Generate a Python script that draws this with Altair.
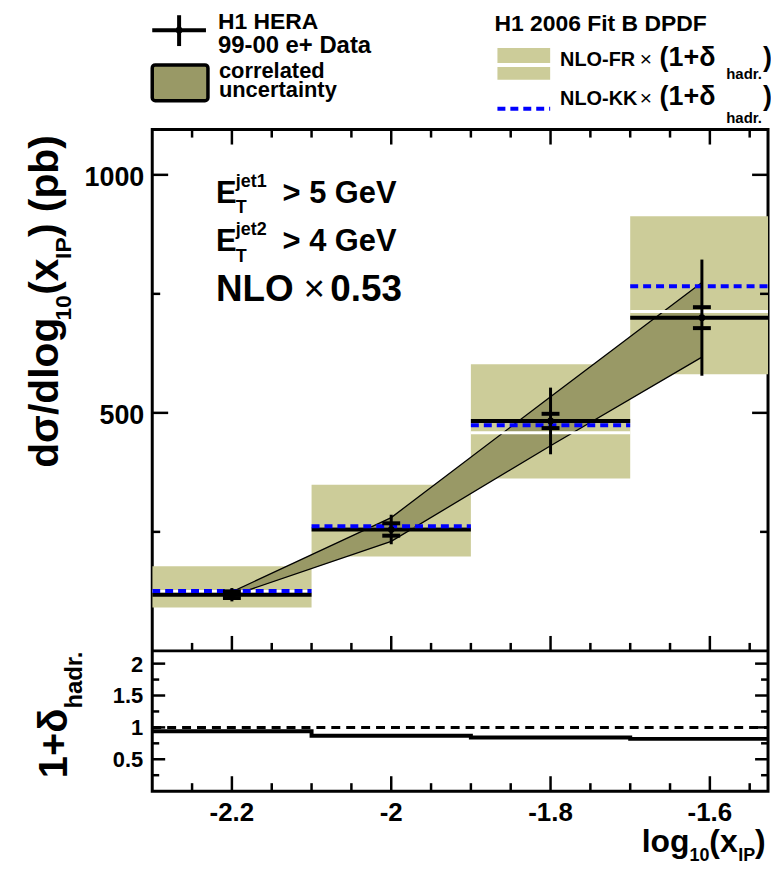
import altair as alt
import pandas as pd

# ---------------- data ----------------
bin_lo = [-2.3, -2.1, -1.9, -1.7]
bin_hi = [-2.1, -1.9, -1.7, -1.52]
x_pts = [-2.2, -2.0, -1.8, -1.61]
data_val = [118, 255, 483, 700]
stat_err = [7, 13, 15, 22]
tot_err = [14, 31, 70, 122]
fr_low = [91, 198, 362, 581]
fr_high = [178, 349, 602, 913]
fr_cent = [125, 256, 458, 713]
kk_val = [126, 262, 474, 766]
corr_x = [-2.2, -2.0, -1.8, -1.61]
corr_up = [124, 280, 534, 774]
corr_lo = [116, 230, 431, 617]
had_corr = [0.94, 0.87, 0.84, 0.82]
ratio_ref = [1.0]

x_major = [-2.2, -2.0, -1.8, -1.6]
x_labels = ["-2.2", "-2", "-1.8", "-1.6"]
x_minor = [-2.25, -2.15, -2.1, -2.05, -1.95, -1.9, -1.85, -1.75, -1.7, -1.65, -1.55]
y_major = [500, 1000]
y_labels = ["500", "1000"]
y_minor = [250, 750]
r_major = [0.5, 1.0, 1.5, 2.0]
r_labels = ["0.5", "1", "1.5", "2"]
r_minor = [0.25, 0.75, 1.25, 1.75]

# ---------------- layout ----------------
FONT = "Liberation Sans"
W = 619
H_MAIN = 524
H_TOT = 665
KHAKI = "#CCCC99"
DARK = "#999966"
BLUE = "#0000FF"

XS = alt.Scale(domain=[-2.3, -1.527], range=[0, W], nice=False, zero=False)
YM = alt.Scale(domain=[0, 1095], range=[H_MAIN, 0], nice=False, zero=False)
YR = alt.Scale(domain=[0, 2.2], range=[H_TOT, H_MAIN], nice=False, zero=False)


def X(f):
    return alt.X(f, type="quantitative", scale=XS, axis=None)


def YMf(f):
    return alt.Y(f, type="quantitative", scale=YM, axis=None)


def YRf(f):
    return alt.Y(f, type="quantitative", scale=YR, axis=None)


def txt(s, x, y, size, weight="bold", angle=0, align="left", baseline="alphabetic"):
    return alt.Chart(pd.DataFrame({"t": [s]})).mark_text(
        align=align, baseline=baseline, fontSize=size, fontWeight=weight,
        font=FONT, angle=angle, color="black"
    ).encode(x=alt.value(x), y=alt.value(y), text="t:N")


bins = pd.DataFrame({"lo": bin_lo, "hi": bin_hi, "flo": fr_low, "fhi": fr_high,
                     "fc": fr_cent, "kk": kk_val, "d": data_val})
pts = pd.DataFrame({"x": x_pts, "d": data_val,
                    "lo": [d - e for d, e in zip(data_val, tot_err)],
                    "hi": [d + e for d, e in zip(data_val, tot_err)]})
stat_ticks = pd.DataFrame({"x": x_pts + x_pts,
                           "v": [d + e for d, e in zip(data_val, stat_err)] +
                                [d - e for d, e in zip(data_val, stat_err)]})
corr = pd.DataFrame({"x": corr_x, "up": corr_up, "lo": corr_lo})
had = pd.DataFrame({"x": bin_lo + [bin_hi[-1]], "h": had_corr + [had_corr[-1]]})

layers = []

# khaki NLO-FR bands
layers.append(alt.Chart(bins).mark_rect(color=KHAKI, clip=True).encode(
    x=X("lo"), x2="hi", y=YMf("flo"), y2="fhi"))
# correlated uncertainty band
layers.append(alt.Chart(corr).mark_area(color=DARK, opacity=1).encode(
    x=X("x"), y=YMf("up"), y2="lo"))
layers.append(alt.Chart(corr).mark_line(color="black", strokeWidth=1.3).encode(
    x=X("x"), y=YMf("up")))
layers.append(alt.Chart(corr).mark_line(color="black", strokeWidth=1.3).encode(
    x=X("x"), y=YMf("lo")))
# NLO-FR central (white)
layers.append(alt.Chart(bins).mark_rule(color="white", strokeWidth=3, clip=True).encode(
    x=X("lo"), x2="hi", y=YMf("fc")))
# data histogram line
layers.append(alt.Chart(bins).mark_rule(color="black", strokeWidth=4, clip=True).encode(
    x=X("lo"), x2="hi", y=YMf("d")))
# NLO-KK (blue dashed)
layers.append(alt.Chart(bins).mark_rule(color=BLUE, strokeWidth=4, strokeDash=[8, 5], clip=True).encode(
    x=X("lo"), x2="hi", y=YMf("kk")))
# error bars
layers.append(alt.Chart(pts).mark_rule(color="black", strokeWidth=3).encode(
    x=X("x"), y=YMf("lo"), y2="hi"))
layers.append(alt.Chart(stat_ticks).mark_rule(color="black", strokeWidth=4, xOffset=-9, x2Offset=9).encode(
    x=X("x"), x2="x", y=YMf("v")))
layers.append(alt.Chart(pts).mark_point(filled=True, size=45, color="black", opacity=1).encode(
    x=X("x"), y=YMf("d")))

# ratio panel
layers.append(alt.Chart(pd.DataFrame({"v": ratio_ref})).mark_rule(
    color="black", strokeWidth=3, strokeDash=[9, 6]).encode(
    x=alt.value(0), x2=alt.value(W), y=YRf("v")))
layers.append(alt.Chart(had).mark_line(color="black", strokeWidth=4, interpolate="step-after", clip=True).encode(
    x=X("x"), y=YRf("h")))

# panel divider
layers.append(alt.Chart(pd.DataFrame({"a": [0]})).mark_rule(color="black", strokeWidth=3).encode(
    x=alt.value(0), x2=alt.value(W), y=alt.value(H_MAIN)))

# ---- inward ticks ----
def xticks(vals, y0, ln):
    return alt.Chart(pd.DataFrame({"v": vals})).mark_rule(color="black", strokeWidth=2.5).encode(
        x=X("v"), y=alt.value(y0), y2=alt.value(y0 + ln))


for vals, ln in [(x_major, 15), (x_minor, 8)]:
    layers.append(xticks(vals, 0, ln))
    layers.append(xticks(vals, H_MAIN, -ln))
    layers.append(xticks(vals, H_TOT, -ln))


def yticks(vals, yf, x0, ln):
    return alt.Chart(pd.DataFrame({"v": vals})).mark_rule(color="black", strokeWidth=2.5).encode(
        y=yf("v"), x=alt.value(x0), x2=alt.value(x0 + ln))


for vals, ln in [(y_major, 16), (y_minor, 8)]:
    layers.append(yticks(vals, YMf, 0, ln))
    layers.append(yticks(vals, YMf, W, -ln))
for vals, ln in [(r_major, 13), (r_minor, 7)]:
    layers.append(yticks(vals, YRf, 0, ln))
    layers.append(yticks(vals, YRf, W, -ln))

# ---- tick labels ----
layers.append(alt.Chart(pd.DataFrame({"v": x_major, "lab": x_labels})).mark_text(
    align="center", baseline="alphabetic", fontSize=26, fontWeight="bold", font=FONT, color="black").encode(
    x=X("v"), y=alt.value(695), text="lab:N"))
layers.append(alt.Chart(pd.DataFrame({"v": y_major, "lab": y_labels})).mark_text(
    align="right", baseline="middle", fontSize=27, fontWeight="bold", font=FONT, color="black", dy=3).encode(
    y=YMf("v"), x=alt.value(-8), text="lab:N"))
layers.append(alt.Chart(pd.DataFrame({"v": r_major, "lab": r_labels})).mark_text(
    align="right", baseline="middle", fontSize=22, fontWeight="bold", font=FONT, color="black", dy=1).encode(
    y=YRf("v"), x=alt.value(-9), text="lab:N"))

# ---- axis titles ----
# main y title (rotated)
layers += [
    txt("d\u03c3/dlog", -95, 340, 41, angle=270),
    txt("10", -82, 192, 23, angle=270),
    txt("(x", -95, 166, 41, angle=270),
    txt("IP", -82, 130, 23, angle=270),
    txt(") (pb)", -95, 108, 41, angle=270),
]
# ratio y title
layers += [
    txt("1+\u03b4", -86, 652, 40, angle=270),
    txt("hadr.", -71, 582, 24, angle=270),
]
# x title
layers += [
    txt("log", 492, 726, 32),
    txt("10", 540, 735, 18),
    txt("(x", 560, 726, 32),
    txt("IP", 589, 735, 18),
    txt(")", 606, 726, 32),
]

# ---- in-plot labels ----
layers += [
    txt("E", 64, 74, 31), txt("T", 84, 84, 18), txt("jet1", 84, 58, 18), txt("> 5 GeV", 131, 74, 31),
    txt("E", 64, 122, 31), txt("T", 84, 133, 18), txt("jet2", 84, 106, 18), txt("> 4 GeV", 131, 122, 31),
    txt("NLO", 64, 172, 37), txt("\u00d7", 152, 172, 37, weight="normal"), txt("0.53", 179, 172, 37),
]

# ---- legend (left) ----
layers.append(alt.Chart(pd.DataFrame({"a": [0]})).mark_rule(color="black", strokeWidth=4).encode(
    x=alt.value(0), x2=alt.value(54), y=alt.value(-100)))
layers.append(alt.Chart(pd.DataFrame({"a": [0]})).mark_rule(color="black", strokeWidth=4).encode(
    x=alt.value(27), y=alt.value(-115), y2=alt.value(-84)))
layers.append(alt.Chart(pd.DataFrame({"a": [0]})).mark_point(filled=True, size=45, color="black", opacity=1).encode(
    x=alt.value(27), y=alt.value(-100)))
layers.append(alt.Chart(pd.DataFrame({"a": [0]})).mark_rect(
    color=DARK, stroke="black", strokeWidth=3.5, cornerRadius=3).encode(
    x=alt.value(0), x2=alt.value(56), y=alt.value(-65), y2=alt.value(-29)))
layers += [
    txt("H1 HERA", 66, -101, 23),
    txt("99-00 e+ Data", 66, -77, 24),
    txt("correlated", 67, -52, 22),
    txt("uncertainty", 67, -33, 22),
]

# ---- legend (right) ----
layers.append(alt.Chart(pd.DataFrame({"a": [0]})).mark_rect(color=KHAKI).encode(
    x=alt.value(347), x2=alt.value(400), y=alt.value(-82), y2=alt.value(-67)))
layers.append(alt.Chart(pd.DataFrame({"a": [0]})).mark_rect(color=KHAKI).encode(
    x=alt.value(347), x2=alt.value(400), y=alt.value(-63), y2=alt.value(-50)))
layers.append(alt.Chart(pd.DataFrame({"a": [0]})).mark_rule(color=BLUE, strokeWidth=4, strokeDash=[8, 5]).encode(
    x=alt.value(347), x2=alt.value(400), y=alt.value(-21)))
layers += [
    txt("H1 2006 Fit B DPDF", 344, -99, 23),
    txt("NLO-FR", 410, -64, 20), txt("\u00d7", 490, -64, 21, weight="normal"),
    txt("(1+\u03b4", 510, -64, 27), txt("hadr.", 577, -51, 15), txt(")", 614, -64, 27),
    txt("NLO-KK", 410, -25, 20), txt("\u00d7", 490, -25, 21, weight="normal"),
    txt("(1+\u03b4", 510, -25, 27), txt("hadr.", 577, -7, 15), txt(")", 614, -25, 27),
]

chart = alt.layer(*layers).resolve_scale(y="independent").properties(
    width=W, height=H_TOT,
    padding={"left": 145, "top": 120, "right": 3, "bottom": 74},
    autosize=alt.AutoSizeParams(type="none"),
).configure_view(stroke="black", strokeWidth=3)

chart.save("out.html", embed_options={"renderer": "svg", "actions": False})
